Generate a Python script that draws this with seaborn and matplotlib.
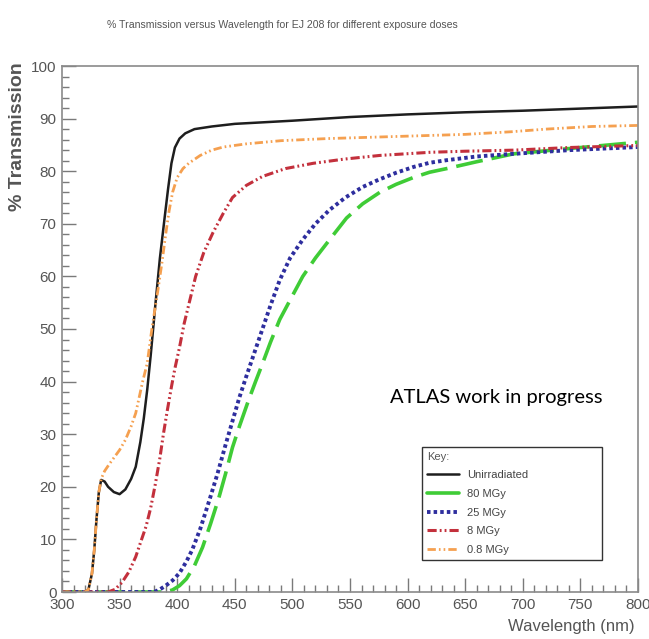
import numpy as np
import pandas as pd
import seaborn as sns
import matplotlib
matplotlib.use("Agg")
import matplotlib.pyplot as plt
from matplotlib.ticker import MultipleLocator

# ---------------- data ----------------
title = "% Transmission versus Wavelength for EJ 208 for different exposure doses"
labels = ["Unirradiated", "80 MGy", "25 MGy", "8 MGy", "0.8 MGy"]

wl_unirr = [300, 320, 323, 326, 328, 330, 332, 334, 337, 340, 345, 350, 355, 360,
            364, 368, 371, 374, 377, 381, 385, 389, 392, 395, 398, 402, 407, 415,
            430, 450, 475, 500, 550, 600, 650, 700, 750, 800]
t_unirr = [0, 0, 0.5, 3.5, 8, 14, 19, 21.3, 21, 20, 19, 18.6, 19.5, 21.5,
           23.8, 28.5, 33, 38.5, 45, 54.5, 63.5, 71, 76.5, 81.5, 84.5, 86.2, 87.2, 88,
           88.5, 89, 89.3, 89.6, 90.3, 90.8, 91.2, 91.5, 91.9, 92.3]

wl_80 = [300, 390, 396, 402, 408, 415, 422, 429, 436, 442, 448, 454, 462, 468,
         474, 481, 489, 498, 509, 520, 532, 547, 561, 576, 590, 605, 619, 634,
         660, 692, 740, 800]
t_80 = [0, 0, 0.4, 1.2, 2.5, 5, 8.5, 13, 17.8, 22.5, 27.5, 31.5, 36.5, 40,
        43.4, 47.5, 51.8, 55.5, 60, 63.5, 66.9, 71.1, 73.8, 76, 77.5, 78.8, 79.8, 80.5,
        81.8, 83.3, 84.3, 85.5]

wl_25 = [300, 380, 385, 390, 396, 402, 408, 413, 420, 428, 435, 442, 448, 454,
         460, 467, 474, 481, 489, 498, 509, 520, 532, 546, 561, 575, 590, 605,
         619, 634, 660, 692, 740, 800]
t_25 = [0, 0, 0.5, 1.2, 2.2, 3.6, 5.8, 8, 12, 17.5, 22.5, 28, 32.5, 37,
        41, 45.5, 50, 54.5, 59.3, 63.5, 67, 70, 72.6, 75, 77, 78.4, 79.7, 80.8,
        81.6, 82.1, 82.8, 83.3, 84, 84.6]

wl_8 = [300, 340, 346, 352, 358, 364, 368, 373, 377, 381, 385, 388, 391, 395,
        398, 402, 406, 411, 416, 423, 431, 440, 448, 460, 474, 494, 518, 545,
        576, 620, 650, 692, 740, 800]
t_8 = [0, 0, 0.5, 1.8, 3.8, 6.7, 9.3, 12.5, 16, 20.5, 25.5, 30, 34, 39,
       42.5, 46.5, 51, 55.5, 60, 64.5, 68.3, 72, 75, 77.3, 79, 80.5, 81.5, 82.3,
       83, 83.6, 83.8, 84, 84.5, 84.9]

wl_08 = [300, 320, 323, 326, 328, 330, 332, 334, 337, 341, 345, 350, 355, 360,
         364, 367, 370, 374, 378, 383, 387, 390, 393, 396, 400, 405, 410, 420,
         430, 440, 460, 490, 530, 575, 620, 650, 690, 720, 760, 800]
t_08 = [0, 0, 0.5, 3.5, 8, 14, 19, 21.5, 23, 24.3, 25.5, 27, 28.9, 31.5,
        34, 37, 40, 43.5, 50, 57, 63, 68, 72.5, 76, 78.8, 80.5, 81.5, 83,
        84, 84.6, 85.2, 85.8, 86.2, 86.5, 86.8, 87, 87.5, 88, 88.5, 88.7]

x_ticks = [300, 350, 400, 450, 500, 550, 600, 650, 700, 750, 800]
y_ticks = [0, 10, 20, 30, 40, 50, 60, 70, 80, 90, 100]

series_x = [wl_unirr, wl_80, wl_25, wl_8, wl_08]
series_y = [t_unirr, t_80, t_25, t_8, t_08]

# ---------------- styling ----------------
colors = ["#1e1e1e", "#3fcc36", "#2e2e9e", "#c3303c", "#f5a050"]
widths = [1.8, 2.6, 2.8, 2.2, 2.0]
styles = [
    "-",
    (0, (7.5, 2.5)),
    (0, (0.9, 0.8)),
    (0, (3.0, 1.0, 0.6, 1.0, 0.6, 1.0)),
    (0, (3.0, 1.1, 0.6, 1.1, 0.6, 1.1)),
]

sns.set_style("ticks")
plt.rcParams["font.family"] = ["Liberation Sans", "DejaVu Sans"]

fig = plt.figure(figsize=(6.49, 6.39), dpi=100)
ax = fig.add_axes([62 / 649, 1 - 592 / 639, 576 / 649, 526 / 639])

for xs, ys, lab, c, lw, ls in zip(series_x, series_y, labels, colors, widths, styles):
    df = pd.DataFrame({"Wavelength": xs, "Transmission": ys})
    sns.lineplot(data=df, x="Wavelength", y="Transmission", ax=ax, color=c,
                 lw=lw, label=lab, sort=False, estimator=None)
    ax.lines[-1].set_linestyle(ls)

ax.set_xlim(300, 800)
ax.set_ylim(0, 100)
ax.set_xticks(x_ticks)
ax.set_yticks(y_ticks)
ax.xaxis.set_minor_locator(MultipleLocator(10))
ax.yaxis.set_minor_locator(MultipleLocator(2))
tick_col = "#7a7a7a"
ax.tick_params(which="major", direction="in", length=10, width=1.0, color=tick_col,
               labelsize=11, labelcolor="#555555", top=False, right=False, pad=4)
ax.tick_params(which="minor", direction="in", length=5, width=1.0, color=tick_col,
               top=False, right=False)
for s in ax.spines.values():
    s.set_color("#8a8a8a")
    s.set_linewidth(1.2)

ax.set_xlabel("Wavelength (nm)", loc="right", fontsize=12, color="#555555")
ax.xaxis.set_label_coords(0.994, -0.052)
ax.set_ylabel("% Transmission", loc="top", fontsize=14, color="#555555",
              fontweight="bold")
ax.yaxis.set_label_coords(-0.062, 1.008)

fig.text(282 / 649, 1 - 25 / 639, title, ha="center", va="center",
         fontsize=7.6, color="#555555")

ax.text((390 - 62) / 576, (592 - 398) / 526, "ATLAS work in progress",
        transform=ax.transAxes, ha="left", va="center", fontsize=14.5,
        family=["Lato", "DejaVu Sans"], color="black")

leg = ax.legend(title="Key:", loc="upper left",
                bbox_to_anchor=((421.7 - 62) / 576, (592 - 446.7) / 526,
                                (602 - 421.7) / 576, 0.0),
                mode="expand", fontsize=8, title_fontsize=8, alignment="left",
                frameon=True, fancybox=False, shadow=False, framealpha=1,
                edgecolor="#333333", handlelength=2.9, handletextpad=0.7,
                labelspacing=0.78, borderpad=0.45, borderaxespad=0)
leg.get_frame().set_linewidth(1.0)
leg.get_title().set_color("#555555")
for t in leg.get_texts():
    t.set_color("#444444")
# the long-dash handle shows as one solid segment in the reference key
leg.get_lines()[1].set_linestyle("-")

fig.savefig("out.png", dpi=100, facecolor="white")
